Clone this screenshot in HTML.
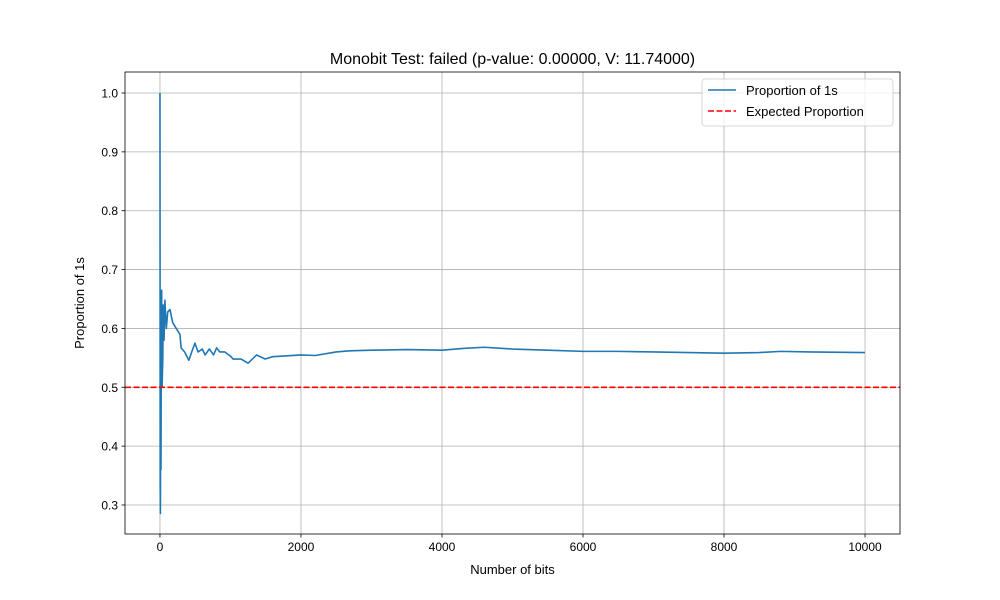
<!DOCTYPE html>
<html><head><meta charset="utf-8"><style>body{margin:0;background:#fff}svg{display:block;font-family:"Liberation Sans","DejaVu Sans",sans-serif}</style></head>
<body>
<svg id="c" width="1000" height="600"></svg>
<script>
const bitsIndex=[0,3,6,10,14,20,24,30,40,48,58,70,90,110,142,180,230,283,300,350,410,450,496,540,600,640,700,760,803,850,920,1000,1038,1150,1250,1370,1490,1600,1745,2000,2200,2500,2690,3000,3500,4000,4300,4600,5000,5500,6000,6500,7000,7500,8000,8500,8800,9200,9999];
const proportion=[1.0,0.333,0.2857,0.45,0.36,0.60,0.665,0.5,0.55,0.64,0.58,0.648,0.6,0.628,0.632,0.61,0.6,0.59,0.567,0.56,0.546,0.56,0.575,0.56,0.565,0.555,0.565,0.555,0.567,0.56,0.56,0.553,0.548,0.548,0.541,0.555,0.548,0.552,0.553,0.555,0.554,0.56,0.562,0.563,0.564,0.563,0.566,0.568,0.565,0.563,0.561,0.561,0.56,0.559,0.558,0.559,0.561,0.56,0.559];
const expected=[0.5];
const xTicks=[0,2000,4000,6000,8000,10000];
const yTicks=[0.3,0.4,0.5,0.6,0.7,0.8,0.9,1.0];
const L=125,R=900,T=72,B=534;
const xmin=-496,xmax=10496,ymin=0.2507,ymax=1.0357;
const X=v=>L+(v-xmin)/(xmax-xmin)*(R-L);
const Y=v=>B-(v-ymin)/(ymax-ymin)*(B-T);
const s=document.getElementById('c');const NS='http://www.w3.org/2000/svg';
function mk(t,a,txt){const e=document.createElementNS(NS,t);for(const k in a)e.setAttribute(k,a[k]);if(txt!==undefined)e.textContent=txt;s.appendChild(e);return e;}
xTicks.forEach(v=>{const g=mk('line',{x1:X(v),x2:X(v),y1:T,y2:B,stroke:'#b0b0b0','stroke-width':0.8});

const tk=mk('line',{x1:X(v),x2:X(v),y1:B,y2:B+3.5,stroke:'#000','stroke-width':0.8});

const t=mk('text',{x:X(v),y:B+17,'font-size':12,'text-anchor':'middle'},String(v));
});
yTicks.forEach(v=>{const g=mk('line',{x1:L,x2:R,y1:Y(v),y2:Y(v),stroke:'#b0b0b0','stroke-width':0.8});

const tk=mk('line',{x1:L-3.5,x2:L,y1:Y(v),y2:Y(v),stroke:'#000','stroke-width':0.8});

const t=mk('text',{x:L-7,y:Y(v)+4.5,'font-size':12,'text-anchor':'end'},v.toFixed(1));
});
const p=mk('polyline',{points:bitsIndex.map((v,i)=>X(v)+','+Y(proportion[i])).join(' '),fill:'none',stroke:'#1f77b4','stroke-width':1.6,'stroke-linejoin':'round'});

const e=mk('line',{x1:L,x2:R,y1:Y(expected[0]),y2:Y(expected[0]),stroke:'#ff0000','stroke-width':1.6,'stroke-dasharray':'6,2.5'});

const fr=mk('rect',{x:L,y:T,width:R-L,height:B-T,fill:'none',stroke:'#000','stroke-width':0.8});

const ti=mk('text',{x:(L+R)/2,y:64,'font-size':16,'text-anchor':'middle'},'Monobit Test: failed (p-value: 0.00000, V: 11.74000)');

const xl=mk('text',{x:(L+R)/2,y:574,'font-size':13,'text-anchor':'middle'},'Number of bits');

const yl=mk('text',{x:0,y:0,'font-size':13,'text-anchor':'middle',transform:'translate(84,303) rotate(-90)'},'Proportion of 1s');

const lb=mk('rect',{x:702,y:79,width:191,height:47,rx:3,fill:'#fff','fill-opacity':0.8,stroke:'#ccc','stroke-width':0.8});

const l1=mk('line',{x1:708,x2:736,y1:90,y2:90,stroke:'#1f77b4','stroke-width':1.6});

const t1=mk('text',{x:746,y:95,'font-size':13},'Proportion of 1s');

const l2=mk('line',{x1:708,x2:736,y1:111,y2:111,stroke:'#ff0000','stroke-width':1.6,'stroke-dasharray':'6,2.5'});

const t2=mk('text',{x:746,y:116,'font-size':13},'Expected Proportion');

</script>
</body></html>
